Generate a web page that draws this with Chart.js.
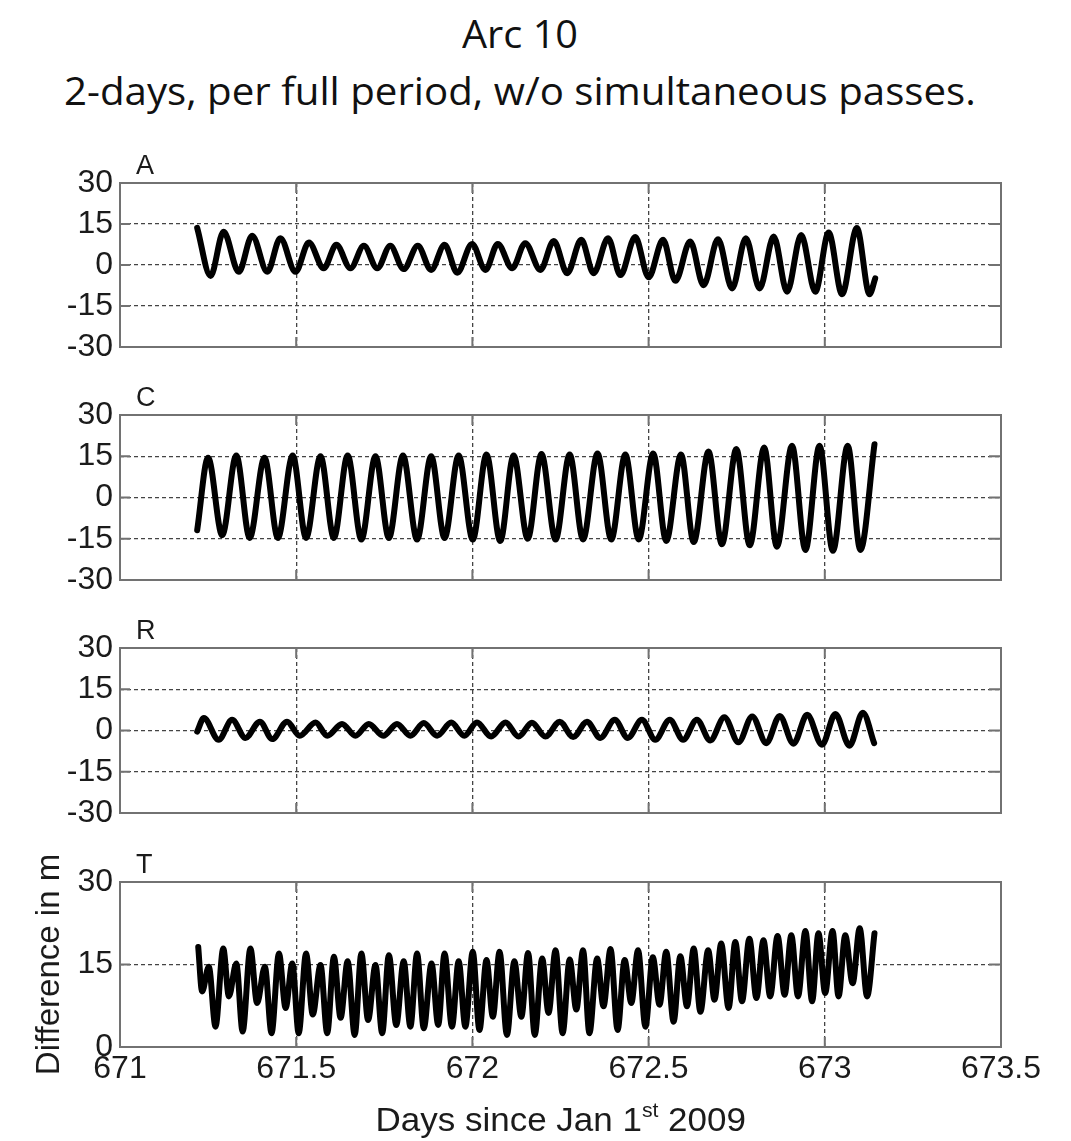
<!DOCTYPE html>
<html>
<head>
<meta charset="utf-8">
<title>Arc 10</title>
<script src="https://cdn.jsdelivr.net/npm/chart.js@4.4.1/dist/chart.umd.min.js"></script>
<style>
  body { margin: 0; background: #fff; width: 1071px; height: 1141px; position: relative; overflow: hidden; }
  .head { position: absolute; left: 0; width: 1040px; text-align: center; font-family: "Open Sans", sans-serif;
          font-size: 39px; line-height: 1; color: #111; white-space: nowrap; }
  .head span { display: inline-block; transform-origin: center; }
  canvas { position: absolute; left: 0; }
  #xlabel { position: absolute; left: 0; width: 1121px; top: 1103px; text-align: center; font-family: "Liberation Sans", Arial, sans-serif;
            font-size: 33px; line-height: 1; color: #1b1b1b; white-space: nowrap; }
  #xlabel span { display: inline-block; transform-origin: center; }
  #xlabel sup { font-size: 20px; line-height: 0; vertical-align: 14px; }
</style>
</head>
<body>
<div class="head" style="top:13px"><span id="h1">Arc 10</span></div>
<div class="head" style="top:70px"><span id="h2">2-days, per full period, w/o simultaneous passes.</span></div>

<canvas id="panelA" width="1071" height="234" style="top:143px"></canvas>
<canvas id="panelC" width="1071" height="235" style="top:375px"></canvas>
<canvas id="panelR" width="1071" height="235" style="top:608px"></canvas>
<canvas id="panelT" width="1071" height="260" style="top:842px"></canvas>

<div id="xlabel"><span id="xl">Days since Jan 1<sup>st</sup> 2009</span></div>

<script>
// day ticks and value ticks
const dayTicks = [671, 671.5, 672, 672.5, 673, 673.5];
const diffTicks = [-30, -15, 0, 15, 30];
const alongTicks = [0, 15, 30];

// A component: turning points of the difference curve
const dayA = [671.219, 671.257, 671.294, 671.337, 671.375, 671.418, 671.455, 671.498, 671.536, 671.578,
  671.614, 671.654, 671.692, 671.730, 671.767, 671.805, 671.845, 671.883, 671.921, 671.957,
  671.999, 672.037, 672.072, 672.113, 672.150, 672.193, 672.231, 672.269, 672.309, 672.344,
  672.385, 672.420, 672.462, 672.500, 672.541, 672.576, 672.618, 672.656, 672.697, 672.737,
  672.776, 672.815, 672.855, 672.893, 672.933, 672.973, 673.011, 673.049, 673.091, 673.127, 673.143];
const valA = [13.6, -4, 12.2, -2.5, 10.7, -2.5, 9.8, -2.5, 8.2, -1.2,
  7.4, -1.2, 7, -1.2, 7, -1.5, 7, -1.8, 7.4, -2.8,
  7.7, -1.8, 7.7, -1.2, 8.0, -1.8, 8.8, -3, 9.2, -3,
  9.8, -3.7, 10.2, -4.5, 9.2, -5.8, 8.6, -7.4, 9.4, -8.6,
  9.8, -8.6, 10.4, -9.8, 11, -9.8, 11.9, -10.7, 13.5, -10.7, -4.9];

// C component
const dayC = [671.219, 671.250, 671.290, 671.330, 671.368, 671.410, 671.448, 671.490, 671.528, 671.569,
  671.607, 671.646, 671.685, 671.725, 671.763, 671.803, 671.843, 671.883, 671.921, 671.961,
  672.001, 672.040, 672.079, 672.117, 672.157, 672.196, 672.236, 672.276, 672.314, 672.355,
  672.394, 672.434, 672.472, 672.513, 672.550, 672.592, 672.628, 672.670, 672.708, 672.749,
  672.787, 672.828, 672.864, 672.907, 672.945, 672.985, 673.023, 673.065, 673.101, 673.141];
const valC = [-11.9, 14.5, -13.7, 15.3, -14.7, 14.5, -14.7, 15.3, -14.7, 15,
  -14.7, 15.3, -15.3, 15, -14.7, 15.3, -15.3, 15, -14.7, 15.3,
  -15.3, 15.6, -15.8, 15.3, -15, 15.8, -15.3, 15.6, -15.3, 16,
  -15.3, 15.6, -15.3, 16, -15.8, 15.6, -16.2, 16.7, -17, 17.6,
  -17.4, 18.2, -17.9, 18.8, -19.1, 18.8, -19.4, 18.8, -19.1, 19.4];

// R component
const dayR = [671.219, 671.238, 671.280, 671.318, 671.356, 671.397, 671.432, 671.474, 671.510, 671.555,
  671.588, 671.630, 671.668, 671.706, 671.747, 671.786, 671.824, 671.862, 671.900, 671.940,
  671.977, 672.013, 672.053, 672.094, 672.131, 672.169, 672.207, 672.248, 672.286, 672.325,
  672.363, 672.404, 672.441, 672.481, 672.519, 672.560, 672.598, 672.637, 672.675, 672.715,
  672.755, 672.794, 672.834, 672.872, 672.911, 672.950, 672.992, 673.030, 673.070, 673.108, 673.140];
const valR = [-0.4, 4.5, -3.4, 3.9, -2.7, 3.2, -3.1, 3.2, -1.9, 2.9,
  -1.9, 2.4, -1.9, 2.4, -1.9, 2.4, -1.9, 2.7, -1.9, 2.9,
  -1.9, 2.9, -2.2, 2.9, -2.2, 2.8, -2.2, 3.2, -2.4, 3.2,
  -2.7, 3.9, -2.7, 3.9, -3.4, 3.9, -3.4, 3.9, -3.6, 4.8,
  -4.3, 5.1, -4.6, 5.3, -4.8, 5.7, -5.2, 6.0, -5.5, 6.5, -4.6];

// T component
const dayT = [671.222, 671.233, 671.252, 671.271, 671.293, 671.309, 671.330, 671.348, 671.370, 671.389,
  671.411, 671.430, 671.451, 671.470, 671.489, 671.507, 671.528, 671.547, 671.569, 671.588,
  671.607, 671.626, 671.646, 671.666, 671.685, 671.704, 671.725, 671.744, 671.763, 671.784,
  671.805, 671.824, 671.843, 671.862, 671.884, 671.903, 671.921, 671.942, 671.961, 671.980,
  672.001, 672.020, 672.040, 672.058, 672.077, 672.098, 672.119, 672.139, 672.158, 672.177,
  672.198, 672.216, 672.236, 672.256, 672.276, 672.295, 672.314, 672.332, 672.354, 672.372,
  672.392, 672.412, 672.432, 672.451, 672.470, 672.491, 672.512, 672.531, 672.550, 672.571,
  672.590, 672.609, 672.628, 672.647, 672.669, 672.687, 672.706, 672.727, 672.746, 672.765,
  672.786, 672.806, 672.826, 672.845, 672.866, 672.886, 672.905, 672.924, 672.945, 672.964,
  672.982, 673.001, 673.022, 673.039, 673.058, 673.079, 673.099, 673.120, 673.141];
const valT = [18.2, 10.1, 14.6, 3.7, 17.9, 9.2, 15.2, 2.8, 17.9, 8.0,
  14.6, 2.5, 17.0, 7.1, 15.2, 2.5, 17.0, 5.9, 14.9, 2.5,
  16.4, 5.3, 15.6, 2.2, 17.0, 4.9, 14.9, 2.5, 16.7, 4.0,
  15.6, 3.7, 17.0, 3.4, 15.2, 4.0, 17.0, 3.7, 15.6, 3.7,
  17.3, 3.1, 15.8, 5.5, 17.3, 2.2, 15.6, 5.5, 17.1, 2.2,
  16.1, 6.2, 17.6, 2.5, 15.9, 6.8, 17.6, 2.5, 16.1, 7.4,
  17.8, 3.1, 15.8, 8.0, 17.6, 3.7, 16.3, 7.7, 17.3, 4.6,
  16.5, 7.4, 17.9, 6.4, 17.6, 8.6, 18.8, 7.1, 19.1, 8.3,
  19.7, 8.9, 19.4, 9.2, 20.2, 9.5, 20.3, 9.2, 21.1, 8.3,
  20.7, 9.8, 21.1, 9.2, 20.3, 11.6, 21.6, 9.2, 20.7];

Chart.defaults.font.family = '"Liberation Sans", Arial, sans-serif';
Chart.defaults.color = "#1b1b1b";

// box around the axes, inward tick marks and the panel letter
const panelFrame = {
  id: "panelFrame",
  afterDatasetsDraw(chart, args, opts) {
    const { ctx, chartArea: a, scales } = chart;
    ctx.save();
    ctx.strokeStyle = "#727272";
    ctx.lineWidth = 2;
    ctx.beginPath();
    scales.y.ticks.forEach(t => {
      const py = scales.y.getPixelForValue(t.value);
      ctx.moveTo(a.left, py); ctx.lineTo(a.left + 10, py);
      ctx.moveTo(a.right, py); ctx.lineTo(a.right - 12, py);
    });
    scales.x.ticks.forEach(t => {
      const px = scales.x.getPixelForValue(t.value);
      ctx.moveTo(px, a.top); ctx.lineTo(px, a.top + 10);
      ctx.moveTo(px, a.bottom); ctx.lineTo(px, a.bottom - 10);
    });
    ctx.stroke();
    ctx.strokeRect(a.left, a.top, a.right - a.left, a.bottom - a.top);
    ctx.fillStyle = "#1b1b1b";
    ctx.font = '27px "Liberation Sans", Arial, sans-serif';
    ctx.textBaseline = "alphabetic";
    ctx.textAlign = "left";
    ctx.fillText(opts.letter, a.left + 16, a.top - 9);
    ctx.restore();
  }
};

function drawPanel(id, letter, days, vals, yMin, yTicks, bottomPanel) {
  const ctx = document.getElementById(id).getContext("2d");
  return new Chart(ctx, {
    type: "line",
    data: {
      datasets: [{
        data: days.map((d, i) => ({ x: d, y: vals[i] })),
        borderColor: "#000",
        borderWidth: 6,
        borderCapStyle: "round",
        borderJoinStyle: "round",
        cubicInterpolationMode: "monotone",
        pointRadius: 0,
        fill: false,
      }],
    },
    options: {
      responsive: false,
      animation: false,
      layout: { padding: { left: 0, right: 70, top: 40, bottom: bottomPanel ? 5 : 30 } },
      plugins: {
        legend: { display: false },
        tooltip: { enabled: false },
        panelFrame: { letter },
      },
      scales: {
        x: {
          type: "linear",
          min: 671,
          max: 673.5,
          afterBuildTicks: s => { s.ticks = dayTicks.map(v => ({ value: v })); },
          afterFit: s => { s.height = bottomPanel ? 50 : 0; },
          ticks: {
            display: bottomPanel,
            autoSkip: false,
            padding: 3,
            maxRotation: 0,
            font: { size: 32 },
            callback: v => String(v),
          },
          grid: { color: "#444", lineWidth: 1.3, drawTicks: false },
          border: { display: false, dash: [4, 3] },
        },
        y: {
          min: yMin,
          max: 30,
          afterBuildTicks: s => { s.ticks = yTicks.map(v => ({ value: v })); },
          afterFit: s => { s.width = 120; },
          ticks: { autoSkip: false, padding: 7, font: { size: 32 }, callback: v => String(v) },
          grid: { color: "#444", lineWidth: 1.3, drawTicks: false },
          border: { display: false, dash: [4, 3] },
          title: {
            display: bottomPanel,
            text: "Difference in m",
            font: { size: 33 },
            padding: { top: 30, bottom: 0 },
          },
        },
      },
    },
    plugins: [panelFrame],
  });
}

drawPanel("panelA", "A", dayA, valA, -30, diffTicks, false);
drawPanel("panelC", "C", dayC, valC, -30, diffTicks, false);
drawPanel("panelR", "R", dayR, valR, -30, diffTicks, false);
drawPanel("panelT", "T", dayT, valT, 0, alongTicks, true);

// squeeze text lines to their set widths
function fitWidth(id, w) {
  const el = document.getElementById(id);
  el.style.transform = "scaleX(" + (w / el.offsetWidth) + ")";
}
fitWidth("h1", 116);
fitWidth("h2", 912);
fitWidth("xl", 370);
</script>
</body>
</html>
